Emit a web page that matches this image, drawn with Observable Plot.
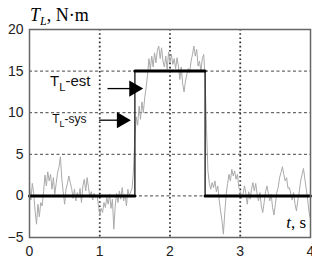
<!DOCTYPE html>
<html><head><meta charset="utf-8">
<script src="https://cdn.jsdelivr.net/npm/d3@7"></script>
<script src="https://cdn.jsdelivr.net/npm/@observablehq/plot@0.6"></script>
<style>body{margin:0;background:#fff}</style>
</head><body><div id="chart"></div>
<script>
const xTicks = [0, 1, 2, 3, 4];
const yTicks = [-5, 0, 5, 10, 15, 20];
const hGrid = [0, 5, 10, 15];
const vGrid = [1, 2, 3];
// T_L-est (step)
const estT = [0, 1.5, 1.5, 2.5, 2.5, 4];
const estV = [0, 0, 15, 15, 0, 0];
// T_L-sys (noisy measured)
const sysT = [0,0.02,0.04,0.06,0.08,0.10,0.12,0.14,0.16,0.18,0.20,0.22,0.24,0.26,0.28,0.30,0.32,0.34,0.36,0.38,0.40,0.42,0.44,0.46,0.48,0.50,0.52,0.54,0.56,0.58,0.60,0.62,0.64,0.66,0.68,0.70,0.72,0.74,0.76,0.78,0.80,0.82,0.84,0.86,0.88,0.90,0.92,0.94,0.96,0.98,1.00,1.02,1.04,1.06,1.08,1.10,1.12,1.14,1.16,1.18,1.20,1.22,1.24,1.26,1.28,1.30,1.32,1.34,1.36,1.38,1.40,1.42,1.44,1.46,1.48,1.50,1.52,1.54,1.56,1.58,1.60,1.62,1.64,1.66,1.68,1.70,1.72,1.74,1.76,1.78,1.80,1.82,1.84,1.86,1.88,1.90,1.92,1.94,1.96,1.98,2.00,2.02,2.04,2.06,2.08,2.10,2.12,2.14,2.16,2.18,2.20,2.22,2.24,2.26,2.28,2.30,2.32,2.34,2.36,2.38,2.40,2.42,2.44,2.46,2.48,2.50,2.52,2.54,2.56,2.58,2.60,2.62,2.64,2.66,2.68,2.70,2.72,2.74,2.76,2.78,2.80,2.82,2.84,2.86,2.88,2.90,2.92,2.94,2.96,2.98,3.00,3.02,3.04,3.06,3.08,3.10,3.12,3.14,3.16,3.18,3.20,3.22,3.24,3.26,3.28,3.30,3.32,3.34,3.36,3.38,3.40,3.42,3.44,3.46,3.48,3.50,3.52,3.54,3.56,3.58,3.60,3.62,3.64,3.66,3.68,3.70,3.72,3.74,3.76,3.78,3.80,3.82,3.84,3.86,3.88,3.90,3.92,3.94,3.96,3.98,4.00];
const sysV = [1.0,-0.5,1.5,0.3,-1.8,-3.4,-1.0,-2.5,-0.8,-1.2,0.5,2.5,1.2,2.9,1.8,2.6,0.8,2.2,0.2,1.5,2.8,3.5,4.7,2.0,0.5,-1.0,0.8,1.5,2.4,1.6,0.9,-0.3,0.8,-0.6,0.4,-0.2,0.9,-0.8,1.2,2.0,0.6,2.2,1.0,-0.2,0.5,-0.5,0.3,-0.2,0.1,-1.0,-2.3,-1.5,-2.0,-0.8,-1.4,-0.2,-1.0,0.2,-1.5,-0.4,-4.0,-1.2,0.3,-0.8,0.6,-0.4,1.0,-0.6,0.2,-1.2,0.8,0.0,0.5,0.9,3.0,7.0,9.5,8.5,10.8,9.2,11.3,10.0,11.8,13.0,14.5,16.5,15.2,16.8,15.5,17.2,16.0,17.5,18.0,16.5,17.8,16.2,15.5,16.8,15.2,17.3,16.0,17.0,15.8,16.5,15.3,16.6,15.6,14.0,15.5,13.5,12.5,13.8,14.6,15.3,14.8,16.2,17.0,18.0,16.8,17.6,15.6,16.2,15.0,16.5,17.0,14.0,8.0,3.0,1.5,0.8,1.6,1.0,1.8,0.5,1.2,-0.5,-1.8,-3.0,-4.6,-2.0,0.2,1.5,2.6,1.8,3.2,2.4,3.0,2.0,2.6,1.0,0.5,-0.3,0.2,1.2,0.3,-1.0,0.5,-0.4,0.8,1.6,0.6,1.5,0.2,-0.6,0.4,-1.2,-2.0,-0.8,0.5,1.2,0.3,-0.6,0.2,-1.4,-2.3,-1.0,0.4,1.0,2.2,2.8,3.5,2.6,1.8,2.2,0.9,1.0,0.2,-0.5,0.4,-1.0,-1.8,-0.5,0.5,1.8,2.6,3.3,2.0,0.8,-0.5,-2.0,-2.7];
// annotation arrows
const arrows = [
  {x1: 1.11, y1: 12.9, x2: 1.49, y2: 12.9},
  {x1: 0.99, y1: 9.1, x2: 1.31, y2: 9.1}
];
const heads = [
  {x: 1.486, y: 12.9},
  {x: 1.31, y: 9.1}
];
const labels = [
  {t: 0.30, v: 13.1, size: 15, sub: "L", rest: "-est"},
  {t: 0.33, v: 8.65, size: 12, sub: "L", rest: "-sys"}
];

const est = estT.map((t, i) => ({t, v: estV[i], seg: Math.floor(i / 2)}));
const sys = sysT.map((t, i) => ({t, v: sysV[i]}));

const plot = Plot.plot({
  width: 312, height: 259,
  marginLeft: 29, marginRight: 2, marginTop: 29, marginBottom: 22,
  style: {fontFamily: "'Liberation Sans', Arial, sans-serif", fontSize: "14px", color: "#222", background: "#fff"},
  x: {domain: [0, 4], ticks: xTicks, tickFormat: "d", tickSize: 0, tickPadding: 9, label: null},
  y: {domain: [-5, 20], ticks: yTicks, tickFormat: "d", tickSize: 0, tickPadding: 6, label: null},
  marks: [
    Plot.ruleY(hGrid, {stroke: "#444", strokeDasharray: "3,2.5", strokeWidth: 1}),
    Plot.ruleX(vGrid, {stroke: "#333", strokeDasharray: "1.6,2.6", strokeWidth: 1.8}),
    Plot.line(sys, {x: "t", y: "v", stroke: "#aaa", strokeWidth: 1}),
    Plot.line(est, {x: "t", y: "v", stroke: "#333", strokeWidth: 1.5}),
    Plot.line(est, {x: "t", y: "v", z: "seg", stroke: "#000", strokeWidth: 3}),
    Plot.link(arrows, {x1: "x1", y1: "y1", x2: "x2", y2: "y2", stroke: "#000", strokeWidth: 1.3}),
    Plot.dot(heads, {x: "x", y: "y", symbol: "triangle", rotate: 90, r: 6, fill: "#000", stroke: null}),
    Plot.frame({stroke: "#666", strokeWidth: 1.5})
  ]
});
document.getElementById("chart").appendChild(plot);

const sx = plot.scale("x"), sy = plot.scale("y");
const svg = d3.select(plot);
// Title
const title = svg.append("text").attr("x", 30).attr("y", 21).attr("text-anchor", "start")
  .style("font-family", "'Liberation Serif', 'Times New Roman', serif").style("font-size", "18px").attr("fill", "#000");
title.append("tspan").style("font-style", "italic").text("T");
title.append("tspan").style("font-style", "italic").style("font-size", "12px").attr("dy", 4).text("L");
title.append("tspan").attr("dy", -4).text(", N·m");
// x label
const xl = svg.append("text").attr("x", sx.apply(4) - 4).attr("y", sy.apply(-5) - 9).attr("text-anchor", "end")
  .style("font-family", "'Liberation Serif', 'Times New Roman', serif").style("font-size", "17px").attr("fill", "#000");
xl.append("tspan").style("font-style", "italic").text("t");
xl.append("tspan").text(", s");
// annotation labels
for (const d of labels) {
  const tx = svg.append("text").attr("x", sx.apply(d.t)).attr("y", sy.apply(d.v)).attr("text-anchor", "start")
    .style("font-family", "'Liberation Sans', Arial, sans-serif").style("font-size", d.size + "px").attr("fill", "#111");
  tx.append("tspan").text("T");
  tx.append("tspan").attr("dy", d.size * 0.3).style("font-size", (d.size * 0.75) + "px").text(d.sub);
  tx.append("tspan").attr("dy", -d.size * 0.3).text(d.rest);
}
</script></body></html>
